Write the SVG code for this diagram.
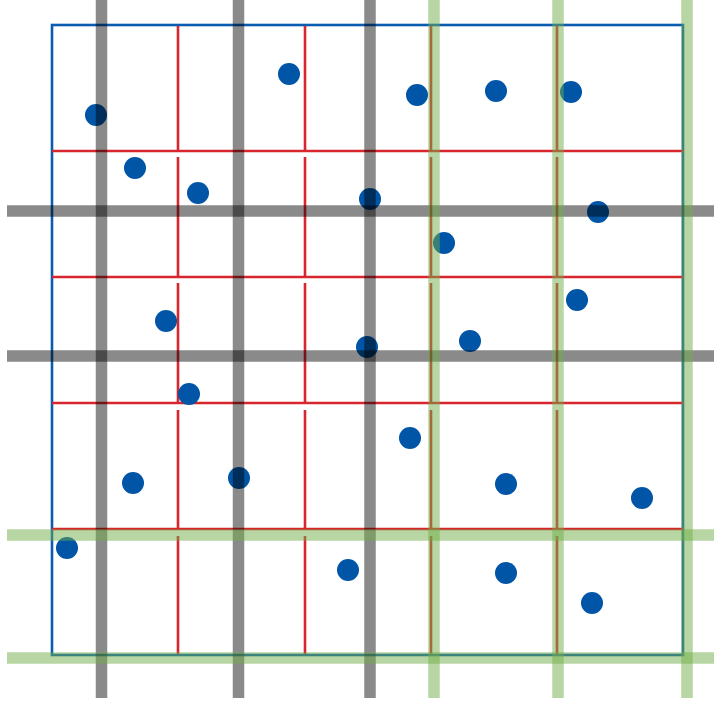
<svg xmlns="http://www.w3.org/2000/svg" width="714" height="712" viewBox="0 0 714 712">
<style>
.frame{fill:none;stroke:#0b5cb0;stroke-width:2.6}
.red{stroke:#d8262e;stroke-width:2.6;fill:none}
.dot{fill:#0055a6}
.gray{stroke:#000;stroke-opacity:0.46;stroke-width:11.5}
.green{stroke:#70ad47;stroke-opacity:0.5;stroke-width:11.5}
</style>
<rect width="714" height="712" fill="#fff"/>
<g id="frame"><rect class="frame" x="52" y="25" width="631" height="630"/></g>
<g id="red-grid">
<path class="red" d="M52 151H683M52 277H683M52 403H683M52 529H683"/>
<path class="red" d="M178 26V151M178 157V277M178 283V403M178 410V529M178 536V654
M305 26V151M305 157V277M305 283V403M305 410V529M305 536V654
M431 26V151M431 157V277M431 283V403M431 410V529M431 536V654
M557 26V151M557 157V277M557 283V403M557 410V529M557 536V654"/>
</g>
<g id="points">
<circle class="dot" cx="96" cy="115" r="11"/>
<circle class="dot" cx="289" cy="74" r="11"/>
<circle class="dot" cx="417" cy="95" r="11"/>
<circle class="dot" cx="496" cy="91" r="11"/>
<circle class="dot" cx="571" cy="92" r="11"/>
<circle class="dot" cx="135" cy="168" r="11"/>
<circle class="dot" cx="198" cy="193" r="11"/>
<circle class="dot" cx="370" cy="199" r="11"/>
<circle class="dot" cx="598" cy="212" r="11"/>
<circle class="dot" cx="444" cy="243" r="11"/>
<circle class="dot" cx="577" cy="300" r="11"/>
<circle class="dot" cx="166" cy="321" r="11"/>
<circle class="dot" cx="367" cy="347" r="11"/>
<circle class="dot" cx="470" cy="341" r="11"/>
<circle class="dot" cx="189" cy="394" r="11"/>
<circle class="dot" cx="410" cy="438" r="11"/>
<circle class="dot" cx="133" cy="483" r="11"/>
<circle class="dot" cx="239" cy="478" r="11"/>
<circle class="dot" cx="506" cy="484" r="11"/>
<circle class="dot" cx="642" cy="498" r="11"/>
<circle class="dot" cx="67" cy="548" r="11"/>
<circle class="dot" cx="348" cy="570" r="11"/>
<circle class="dot" cx="506" cy="573" r="11"/>
<circle class="dot" cx="592" cy="603" r="11"/>
</g>
<g id="gray-lines">
<path class="gray" d="M101.5 0V698M238.5 0V698M370 0V698"/>
<path class="gray" d="M7 211H714M7 356H714"/>
</g>
<g id="green-lines">
<path class="green" d="M434 0V698M558 0V698M687 0V698"/>
<path class="green" d="M7 535H714M7 658H714"/>
</g>
</svg>
